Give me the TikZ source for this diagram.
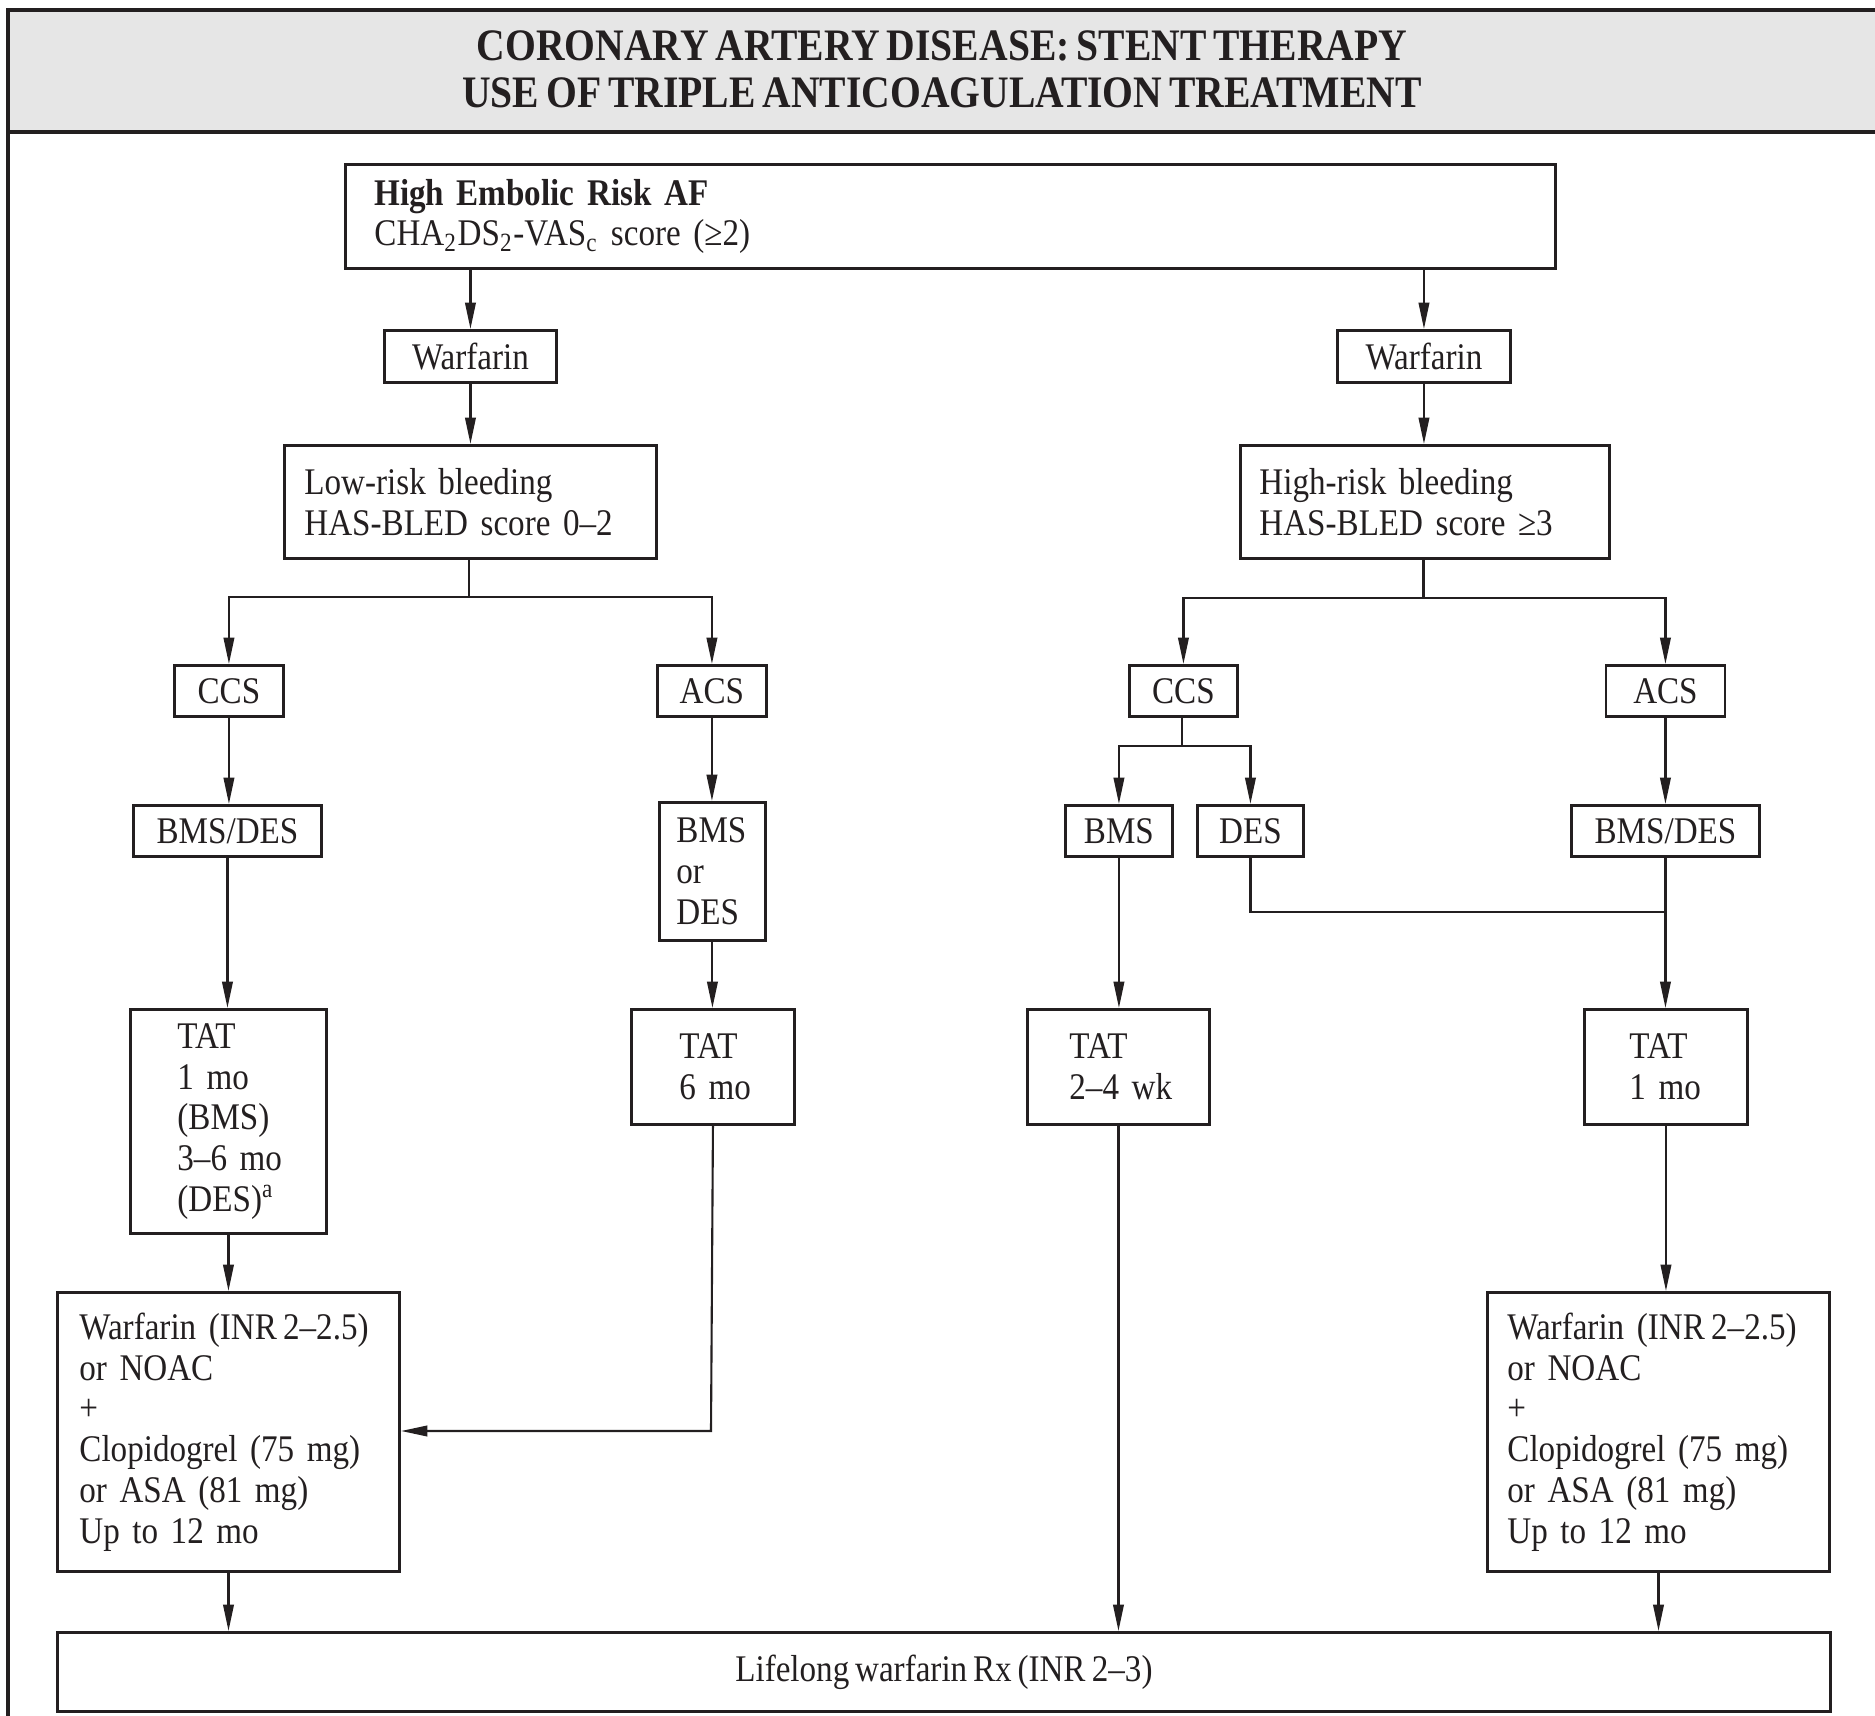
\documentclass[tikz,border=0pt]{standalone}
\usepackage{fontspec}
\setmainfont{Liberation Serif}[FakeStretch=0.88, WordSpace=0.7]
\usetikzlibrary{arrows.meta}
\definecolor{ink}{RGB}{35,31,32}
\definecolor{titlegray}{RGB}{230,230,230}
\newcommand\bodyfont{\fontsize{10.7}{11.6}\selectfont}
\newcommand\headfont{\fontsize{12.8}{13.3}\selectfont\bfseries}
\begin{document}
\begin{tikzpicture}[x=0.01cm, y=-0.01cm,
  box/.style={draw=ink, line width=0.8pt, inner ysep=0pt, anchor=north west, font=\bodyfont, text=ink},
  cbox/.style={box, align=center, inner xsep=0pt},
  lbox/.style={box, align=left},
  conn/.style={draw=ink, line width=0.6pt},
  arr/.style={conn, -{Triangle[length=7.5pt,width=3pt]}}]
\useasboundingbox (0,0) rectangle (1875,1716);
\clip (0,0) rectangle (1875,1716);

% frame and title band
\draw[ink, line width=0.9pt] (8,1760) -- (8,10);
\filldraw[draw=ink, fill=titlegray, line width=1.1pt] (8,10) rectangle (1920,132);
\node[font=\headfont, text=ink, align=center] (title) at (942,69)
  {CORONARY ARTERY DISEASE: STENT THERAPY\\USE OF TRIPLE ANTICOAGULATION TREATMENT};

% top level
\node[lbox, text width=11.51cm, inner xsep=0.29cm, minimum height=1.04cm] (risk) at (344,163)
  {\textbf{High Embolic Risk AF}\\CHA\textsubscript{2}DS\textsubscript{2}-VAS\textsubscript{c} score (≥2)};
\node[cbox, minimum width=1.72cm, minimum height=0.52cm] (wl) at (383,329) {Warfarin};
\node[cbox, minimum width=1.73cm, minimum height=0.52cm] (wr) at (1336,329) {Warfarin};

% bleeding risk
\node[lbox, text width=3.32cm, inner xsep=0.20cm, minimum height=1.13cm] (low) at (283,444)
  {Low-risk bleeding\\\mbox{HAS-BLED score 0–2}};
\node[lbox, text width=3.31cm, inner xsep=0.19cm, minimum height=1.13cm] (high) at (1239,444)
  {High-risk bleeding\\\mbox{HAS-BLED score ≥3}};

% presentation
\node[cbox, minimum width=1.09cm, minimum height=0.51cm] (ccsl) at (173,664) {CCS};
\node[cbox, minimum width=1.09cm, minimum height=0.51cm] (acsl) at (656,664) {ACS};
\node[cbox, minimum width=1.08cm, minimum height=0.51cm] (ccsr) at (1128,664) {CCS};
\node[cbox, minimum width=1.19cm, minimum height=0.51cm] (acsr) at (1604.5,664) {ACS};

% stent type
\node[cbox, minimum width=1.88cm, minimum height=0.51cm] (bdl) at (132,804) {BMS/DES};
\node[lbox, text width=0.72cm, inner xsep=0.17cm, minimum height=1.38cm] (bod) at (658,801)
  {BMS\\or\\DES};
\node[cbox, minimum width=1.07cm, minimum height=0.51cm] (bmsr) at (1064,804) {BMS};
\node[cbox, minimum width=1.06cm, minimum height=0.51cm] (desr) at (1196,804) {DES};
\node[cbox, minimum width=1.88cm, minimum height=0.51cm] (bdr) at (1570,804) {BMS/DES};

% triple therapy duration (each line kept in one piece)
\node[lbox, text width=1.02cm, inner xsep=0.47cm, minimum height=2.24cm] (tatl) at (129,1008)
  {TAT\\\mbox{1 mo}\\(BMS)\\\mbox{3–6 mo}\\(DES)\textsuperscript{a}};
\node[lbox, text width=0.67cm, inner xsep=0.48cm, minimum height=1.15cm] (tat6) at (630,1008)
  {TAT\\\mbox{6 mo}};
\node[lbox, text width=0.98cm, inner xsep=0.42cm, minimum height=1.15cm] (tat24) at (1026,1008)
  {TAT\\\mbox{2–4 wk}};
\node[lbox, text width=0.73cm, inner xsep=0.45cm, minimum height=1.15cm] (tat1) at (1583,1008)
  {TAT\\\mbox{1 mo}};

% dual therapy
\node[lbox, text width=2.98cm, inner xsep=0.22cm, minimum height=2.79cm] (bigl) at (56,1291)
  {\mbox{Warfarin (INR\,2–2.5)}\\\mbox{or NOAC}\\+\\\mbox{Clopidogrel (75 mg)}\\\mbox{or ASA (81 mg)}\\\mbox{Up to 12 mo}};
\node[lbox, text width=3.02cm, inner xsep=0.20cm, minimum height=2.79cm] (bigr) at (1486,1291)
  {\mbox{Warfarin (INR\,2–2.5)}\\\mbox{or NOAC}\\+\\\mbox{Clopidogrel (75 mg)}\\\mbox{or ASA (81 mg)}\\\mbox{Up to 12 mo}};

% lifelong therapy
\node[cbox, minimum width=17.72cm, minimum height=0.79cm] (bot) at (56,1631)
  {Lifelong warfarin Rx (INR\,2–3)};

% branch points
\coordinate (lb) at (469,597);
\coordinate (hb) at (1423.5,598);
\coordinate (cs) at (1182,746);
\coordinate (join) at (1664,912);
\coordinate (turn) at (711,1431);

% connectors
\draw[arr] (risk.south -| wl) -- (wl.north);
\draw[arr] (risk.south -| wr) -- (wr.north);
\draw[arr] (wl.south) -- (wl.south |- low.north);
\draw[arr] (wr.south) -- (wr.south |- high.north);

\draw[conn] (low.south -| lb) -- (lb);
\draw[arr] (lb) -| (ccsl.north);
\draw[arr] (lb) -| (acsl.north);
\draw[conn] (high.south -| hb) -- (hb);
\draw[arr] (hb) -| (ccsr.north);
\draw[arr] (hb) -| (acsr.north);

\draw[arr] (ccsl.south) -- (ccsl.south |- bdl.north);
\draw[arr] (acsl.south) -- (acsl.south |- bod.north);
\draw[conn] (ccsr.south -| cs) -- (cs);
\draw[arr] (cs) -| (bmsr.north);
\draw[arr] (cs) -| (desr.north);
\draw[arr] (acsr.south) -- (acsr.south |- bdr.north);

\draw[arr] (bdl.south) -- (bdl.south |- tatl.north);
\draw[arr] (bod.south) -- (bod.south |- tat6.north);
\draw[arr] (bmsr.south) -- (bmsr.south |- tat24.north);
\draw[conn] (desr.south) |- (join);
\draw[arr] (bdr.south) -- (bdr.south |- tat1.north);

\draw[arr] (tatl.south) -- (tatl.south |- bigl.north);
\draw[arr] (tat6.south) -- (turn) -- (bigl.east |- turn);
\draw[arr] (tat1.south) -- (tat1.south |- bigr.north);

\draw[arr] (bigl.south) -- (bigl.south |- bot.north);
\draw[arr] (tat24.south) -- (tat24.south |- bot.north);
\draw[arr] (bigr.south) -- (bigr.south |- bot.north);
\end{tikzpicture}
\end{document}
